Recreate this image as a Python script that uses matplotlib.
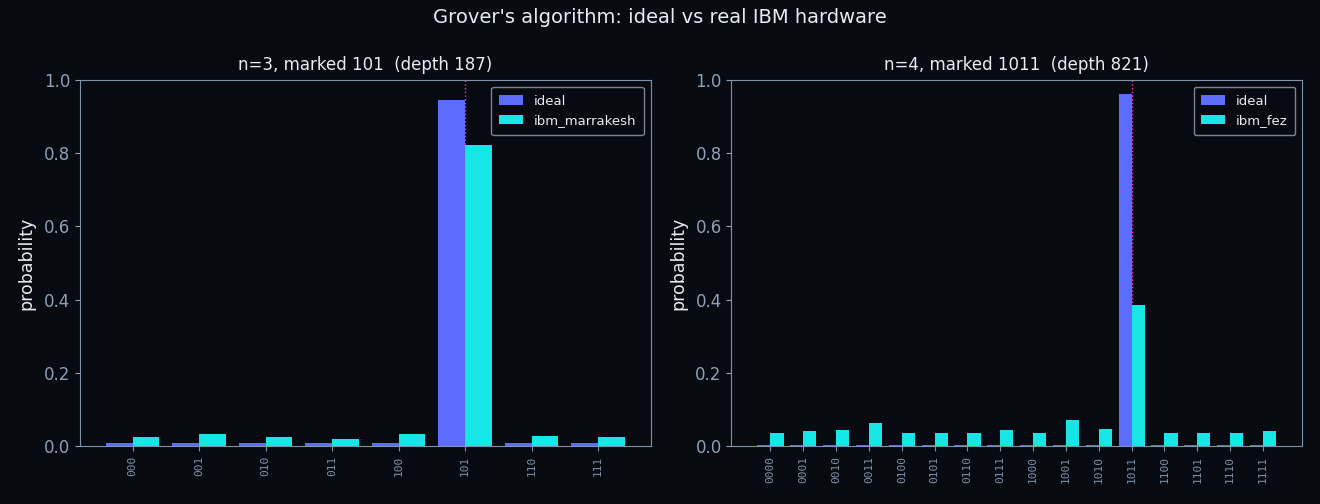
import numpy as np
import matplotlib.pyplot as plt

# colours ======================
BG = '#080a12'
FG = '#e6ecf2'
MUTED = '#8fa0b4'
SPINE = '#7f93a8'
IDEAL_C = '#5b6cff'
HW_C = '#18e6e6'
MARK_C = '#ff2bd6'

# data: n=3 ====================
labels3 = ['000', '001', '010', '011', '100', '101', '110', '111']
ideal3 = [0.0078, 0.0078, 0.0078, 0.0078, 0.0078, 0.945, 0.0078, 0.0078]
hw3 = [0.025, 0.033, 0.025, 0.018, 0.033, 0.822, 0.028, 0.025]
marked3 = '101'
depth3 = 187
backend3 = 'ibm_marrakesh'

# data: n=4 ====================
labels4 = ['0000', '0001', '0010', '0011', '0100', '0101', '0110', '0111',
           '1000', '1001', '1010', '1011', '1100', '1101', '1110', '1111']
ideal4 = [0.0026] * 11 + [0.961] + [0.0026] * 4
hw4 = [0.035, 0.041, 0.044, 0.063, 0.035, 0.035, 0.035, 0.044,
       0.035, 0.071, 0.046, 0.385, 0.035, 0.035, 0.035, 0.041]
marked4 = '1011'
depth4 = 821
backend4 = 'ibm_fez'

plt.rcParams['font.family'] = 'DejaVu Sans'

fig, axes = plt.subplots(1, 2, figsize=(13.2, 5.04), dpi=100)
fig.patch.set_facecolor(BG)
fig.suptitle("Grover's algorithm: ideal vs real IBM hardware", color=FG, fontsize=14, y=0.985)


def panel(ax, labels, ideal, hw, marked, depth, backend):
    ax.set_facecolor(BG)
    x = np.arange(len(labels))
    w = 0.4
    ax.axvline(labels.index(marked), color=MARK_C, ls=':', lw=1, zorder=1)
    ax.bar(x - w / 2, ideal, w, color=IDEAL_C, label='ideal', zorder=2)
    ax.bar(x + w / 2, hw, w, color=HW_C, label=backend, zorder=2)
    ax.set_xticks(x)
    ax.set_xticklabels(labels, rotation=90, fontsize=8, family='DejaVu Sans Mono', color=MUTED)
    ax.set_ylim(0, 1.0)
    ax.set_ylabel('probability', color=FG, fontsize=12.5, labelpad=6)
    ax.set_title('n=%d, marked %s  (depth %d)' % (len(marked), marked, depth),
                 color=FG, fontsize=12, pad=7)
    ax.tick_params(axis='y', colors=MUTED, labelsize=12)
    ax.tick_params(axis='x', colors=SPINE)
    for s in ax.spines.values():
        s.set_color(SPINE)
    leg = ax.legend(loc='upper right', facecolor=BG, edgecolor='#9aa4ae', fontsize=9.5,
                    borderpad=0.6, handlelength=1.8)
    for t in leg.get_texts():
        t.set_color(FG)


panel(axes[0], labels3, ideal3, hw3, marked3, depth3, backend3)
panel(axes[1], labels4, ideal4, hw4, marked4, depth4, backend4)

plt.subplots_adjust(left=0.0606, right=0.9864, top=0.841, bottom=0.115, wspace=0.1416)
fig.savefig('out.png', facecolor=BG)
